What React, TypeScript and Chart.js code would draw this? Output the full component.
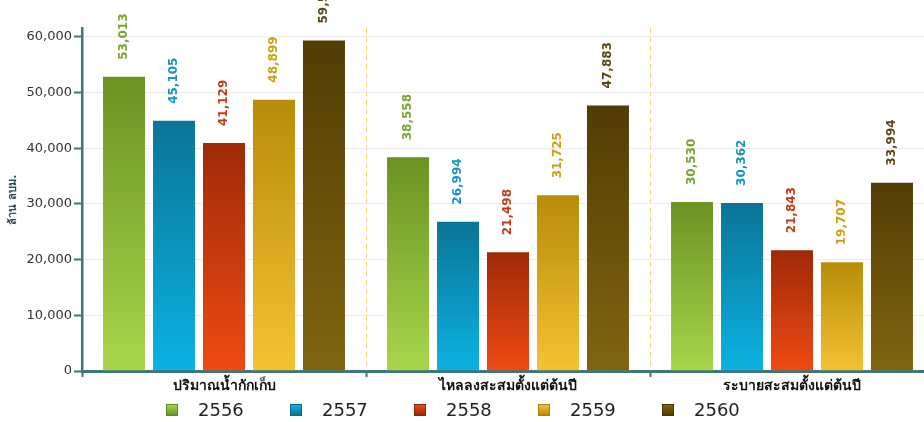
import React, { useEffect, useRef } from "react";
import { Chart, registerables } from "chart.js";

Chart.register(...registerables);

const categories = ["ปริมาณน้ำกักเก็บ", "ไหลลงสะสมตั้งแต่ต้นปี", "ระบายสะสมตั้งแต่ต้นปี"];
const seriesNames = ["2556", "2557", "2558", "2559", "2560"];
const v2556 = [53013, 38558, 30530];
const v2557 = [45105, 26994, 30362];
const v2558 = [41129, 21498, 21843];
const v2559 = [48899, 31725, 19707];
const v2560 = [59530, 47883, 33994];
const seriesValues = [v2556, v2557, v2558, v2559, v2560];
const yTicks = [0, 10000, 20000, 30000, 40000, 50000, 60000];
const yTitle = "ล้าน ลบม.";

const gradTop = ["#6b9223", "#0a7496", "#9e2a08", "#b88c08", "#533c04"];
const gradBottom = ["#a8d64a", "#0cb2e2", "#ef4a12", "#f4c234", "#806510"];
const labelColors = ["#78a632", "#1a93bf", "#c23c1a", "#cba012", "#5b4716"];
const boxBorder = ["#5e8a1c", "#086a8c", "#8e2406", "#a67e06", "#4a3604"];

const AXIS = "#3f767c";
const FONT = "'DejaVu Sans', 'Noto Sans', sans-serif";

const dataLabelPlugin = {
  id: "dataLabels",
  afterDatasetsDraw(chart: any) {
    const ctx = chart.ctx;
    chart.data.datasets.forEach((ds: any, di: number) => {
      const meta = chart.getDatasetMeta(di);
      meta.data.forEach((bar: any, i: number) => {
        const val = ds.data[i];
        ctx.save();
        ctx.translate(bar.x, bar.y - 16);
        ctx.rotate(-Math.PI / 2);
        ctx.font = `bold 12px ${FONT}`;
        ctx.fillStyle = labelColors[di];
        ctx.textAlign = "left";
        ctx.textBaseline = "middle";
        ctx.fillText(val.toLocaleString("en-US"), 0, 0);
        ctx.restore();
      });
    });
  },
};

export default function App() {
  const ref = useRef<HTMLCanvasElement | null>(null);
  useEffect(() => {
    document.body.style.margin = "0";
    if (!ref.current) return;
    const makeFill = (di: number) => (c: any) => {
      const chart = c.chart;
      const ys = chart.scales?.y;
      if (!ys || c.type !== "data") return gradBottom[di];
      const top = ys.getPixelForValue(c.raw);
      const bottom = ys.getPixelForValue(0);
      if (!isFinite(top) || !isFinite(bottom) || top === bottom) return gradBottom[di];
      const g = chart.ctx.createLinearGradient(0, top, 0, bottom);
      g.addColorStop(0, gradTop[di]);
      g.addColorStop(1, gradBottom[di]);
      return g;
    };
    const chart = new Chart(ref.current, {
      type: "bar",
      data: {
        labels: categories,
        datasets: seriesNames.map((name, di) => ({
          label: name,
          data: seriesValues[di],
          backgroundColor: makeFill(di),
          borderColor: "rgba(255,255,255,0.25)",
          borderWidth: 1,
          barPercentage: 0.88,
          categoryPercentage: 0.88,
        })),
      },
      options: {
        responsive: false,
        animation: false,
        layout: { padding: { top: 28, right: 6, left: 0, bottom: 31 } },
        plugins: { legend: { display: false }, tooltip: { enabled: false } },
        scales: {
          x: {
            offset: true,
            afterFit: (s: any) => {
              s.height = 20;
            },
            grid: {
              offset: true,
              color: (c: any) => (c.index === 0 ? "rgba(0,0,0,0)" : "#f5d06a"),
              lineWidth: 1,
              tickColor: AXIS,
              tickWidth: 2,
              tickLength: 6,
            },
            border: { color: AXIS, width: 3, dash: [5, 4] },
            ticks: {
              padding: 1,
              color: "#111",
              font: { family: FONT, size: 14, weight: "bold" },
            },
          },
          y: {
            min: 0,
            max: 61600,
            afterFit: (s: any) => {
              s.width = 82;
            },
            afterBuildTicks: (s: any) => {
              s.ticks = yTicks.map((v) => ({ value: v }));
            },
            grid: {
              color: "#ebebeb",
              lineWidth: 1,
              tickColor: AXIS,
              tickWidth: 2,
              tickLength: 8,
            },
            border: { color: AXIS, width: 2.5 },
            ticks: {
              padding: 2,
              color: "#333",
              font: { family: FONT, size: 13 },
              callback: (v: any) => Number(v).toLocaleString("en-US"),
            },
            title: {
              display: true,
              text: yTitle,
              color: "#2f4f5f",
              padding: { top: 7, bottom: 0 },
              font: { family: FONT, size: 11, weight: "bold" },
            },
          },
        },
      },
      plugins: [dataLabelPlugin],
    });
    return () => chart.destroy();
  }, []);

  return (
    <div style={{ position: "relative", width: 924, height: 422, overflow: "hidden", background: "#fff" }}>
      <canvas ref={ref} width={940} height={422} style={{ position: "absolute", left: 0, top: 0, width: 940, height: 422 }} />
      <div
        style={{
          position: "absolute",
          left: 166,
          top: 399,
          display: "flex",
          alignItems: "center",
          height: 22,
          fontFamily: FONT,
          fontSize: 18,
          color: "#222",
        }}
      >
        {seriesNames.map((name, di) => (
          <div key={name} style={{ display: "flex", alignItems: "center", width: 124 }}>
            <span
              style={{
                display: "inline-block",
                width: 10,
                height: 10,
                border: `1px solid ${boxBorder[di]}`,
                background: `linear-gradient(${gradBottom[di]}, ${gradTop[di]})`,
                marginRight: 20,
              }}
            />
            <span style={{ lineHeight: "22px" }}>{name}</span>
          </div>
        ))}
      </div>
    </div>
  );
}
